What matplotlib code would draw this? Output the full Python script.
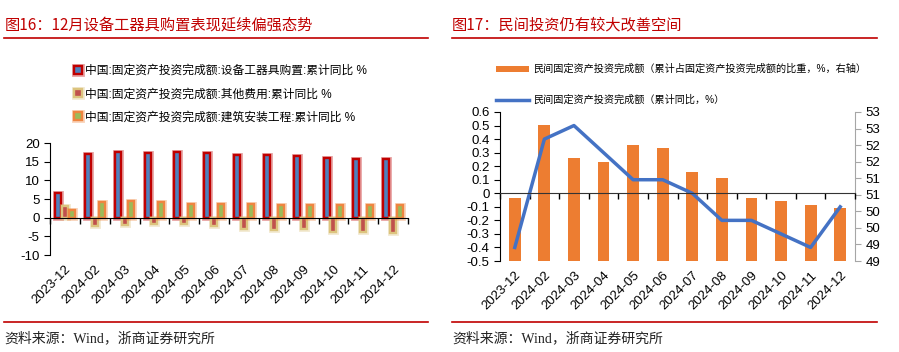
import numpy as np
import matplotlib
matplotlib.use('Agg')
import matplotlib.pyplot as plt
import matplotlib.patheffects as pe
from matplotlib.ticker import FuncFormatter

plt.rcParams['font.family'] = ['Liberation Sans', 'Noto Sans CJK SC']
plt.rcParams['axes.unicode_minus'] = False

# 数据
meses = ['2023-12', '2024-02', '2024-03', '2024-04', '2024-05', '2024-06',
         '2024-07', '2024-08', '2024-09', '2024-10', '2024-11', '2024-12']
equipo = [6.6, 17.0, 17.6, 17.2, 17.5, 17.3, 16.9, 16.8, 16.4, 16.0, 15.7, 15.7]
otros = [3.0, -2.3, -2.0, -1.7, -1.7, -2.3, -3.0, -3.2, -3.1, -3.8, -3.9, -4.2]
obra = [2.1, 4.3, 4.5, 4.1, 3.7, 3.7, 3.7, 3.3, 3.4, 3.5, 3.4, 3.4]

privado_yoy = [-0.4, 0.4, 0.5, 0.3, 0.1, 0.1, 0.0, -0.2, -0.2, -0.3, -0.4, -0.1]
privado_peso = [50.4, 52.6, 51.6, 51.5, 52.0, 51.9, 51.2, 51.0, 50.4, 50.3, 50.2, 50.1]

lab1 = ['中国:固定资产投资完成额:设备工器具购置:累计同比 %',
        '中国:固定资产投资完成额:其他费用:累计同比 %',
        '中国:固定资产投资完成额:建筑安装工程:累计同比 %']
lab2 = ['民间固定资产投资完成额（累计占固定资产投资完成额的比重，%，右轴）',
        '民间固定资产投资完成额（累计同比，%）']

x = np.arange(len(meses))
bordes = np.arange(len(meses) + 1) - 0.5
rojo = '#C00000'
fs = 9.5

fig = plt.figure(figsize=(8.99, 3.52), dpi=100)

# titulos, lineas rojas y fuente
fig.text(5 / 899, 1 - 25 / 352, '图16：12月设备工器具购置表现延续偏强态势',
         color=rojo, fontsize=11, va='center', family=['Noto Sans CJK SC'])
fig.text(452 / 899, 1 - 25 / 352, '图17：民间投资仍有较大改善空间',
         color=rojo, fontsize=11, va='center', family=['Noto Sans CJK SC'])
for x0, x1 in [(4, 428), (452, 877)]:
    for yy in [38, 322]:
        fig.add_artist(plt.Line2D([x0 / 899, x1 / 899], [1 - yy / 352] * 2,
                                  color=rojo, lw=1.2, transform=fig.transFigure))
    fig.text(x0 / 899, 1 - 338 / 352, '资料来源：Wind，浙商证券研究所',
             fontsize=10, va='center', color='#222222',
             family=['Liberation Serif', 'Noto Sans CJK SC'])

def eje_cero(ax):
    for s in ['top', 'right']:
        ax.spines[s].set_visible(False)
    ax.spines['bottom'].set_position(('data', 0))
    ax.set_xticks(bordes)
    ax.tick_params(axis='x', direction='out', length=4, labelbottom=False, width=1)
    ax.set_xlim(-0.5, len(meses) - 0.5)
    sec = ax.secondary_xaxis('bottom')
    sec.set_xticks(x)
    sec.set_xticklabels(meses, rotation=45, ha='right', rotation_mode='anchor', fontsize=fs)
    sec.tick_params(length=0, pad=6)
    sec.spines['bottom'].set_visible(False)
    ax.tick_params(axis='y', direction='out', length=4, labelsize=fs)

# ---------- grafico izquierdo ----------
ax = fig.add_axes([50 / 899, 1 - 255 / 352, 358 / 899, 112 / 352])
w = 0.2
estilos = [(equipo, '#4F81BD', '#C00000', -0.23),
           (otros, '#C0504D', '#DCC47E', 0.0),
           (obra, '#9BBB59', '#EE8540', 0.23)]
for (vals, fc, ec, dx), lab in zip(estilos, lab1):
    ax.bar(x + dx, vals, w, color=fc, edgecolor=ec, linewidth=1.7, label=lab,
           path_effects=[pe.Stroke(linewidth=3.5, foreground=ec, alpha=0.35), pe.Normal()])
ax.set_ylim(-10, 20)
ax.set_yticks([-10, -5, 0, 5, 10, 15, 20])
eje_cero(ax)
ax.legend(loc='upper left', bbox_to_anchor=(74 / 899, 1 - 65 / 352), bbox_transform=fig.transFigure,
          frameon=False, fontsize=8.5, handlelength=0.7, handleheight=0.7, handletextpad=0.2,
          labelspacing=0.95, borderpad=0, borderaxespad=0)

# ---------- grafico derecho ----------
ax1 = fig.add_axes([500 / 899, 1 - 261 / 352, 355 / 899, 149 / 352])
ax2 = ax1.twinx()
ax1.set_zorder(ax2.get_zorder() + 1)
ax1.patch.set_visible(False)

bb = ax2.bar(x, privado_peso, 0.4, color='#ED7D31', label=lab2[0])
ax2.set_ylim(48.5, 53)
ax2.set_yticks(np.arange(48.5, 53.01, 0.5))
ax2.yaxis.set_major_formatter(FuncFormatter(lambda v, p: '%d' % int(np.floor(v + 0.5))))
ax2.tick_params(axis='y', direction='out', length=4, labelsize=fs, color='#A6A6A6')
for s in ['top', 'left', 'bottom']:
    ax2.spines[s].set_visible(False)
ax2.spines['right'].set_color('#A6A6A6')

ln, = ax1.plot(x, privado_yoy, color='#4472C4', lw=2.5, label=lab2[1])
ax1.set_ylim(-0.5, 0.6)
ax1.set_yticks(np.round(np.arange(-0.5, 0.61, 0.1), 1))
ax1.yaxis.set_major_formatter(FuncFormatter(lambda v, p: '0' if abs(v) < 1e-9 else '%.1f' % v))
eje_cero(ax1)
ax1.spines['bottom'].set_color('#333333')

ax1.legend([bb, ln], lab2, loc='upper left', bbox_to_anchor=(496 / 899, 1 - 64 / 352),
           bbox_transform=fig.transFigure, frameon=False, fontsize=7.3,
           handlelength=3.3, handleheight=0.5, handletextpad=0.4,
           labelspacing=2.0, borderpad=0, borderaxespad=0)

fig.savefig('out.png', dpi=100)
